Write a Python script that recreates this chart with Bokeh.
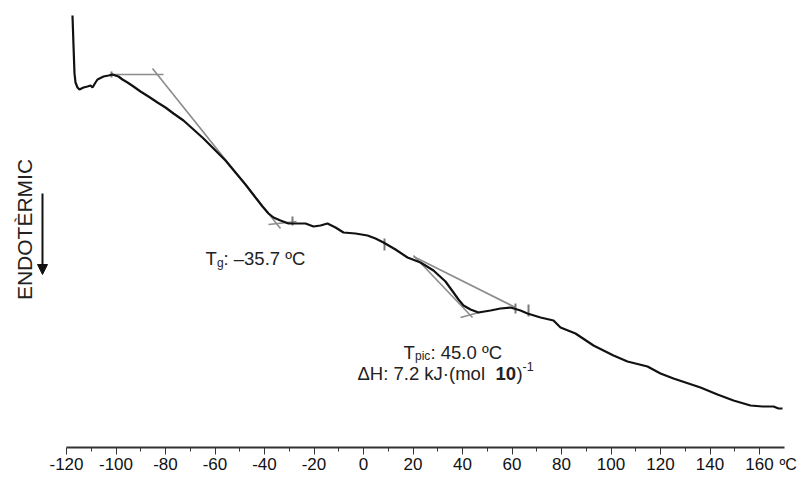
from bokeh.plotting import figure
from bokeh.models import FixedTicker, Label, Arrow, NormalHead
from bokeh.embed import file_html
from bokeh.resources import INLINE
import math

# ---- DSC curve (temperature in ºC, heat flow in arbitrary units, endo down) ----
temp = [-117.58, -117.17, -116.77, -116.36, -115.56, -114.75, -113.13, -111.52, -110.30, -109.49,
        -108.28, -107.47, -105.05, -103.03, -101.41, -99.01, -97.37, -95.35, -92.93, -90.10,
        -86.87, -83.23, -80.00, -76.77, -72.73, -68.69, -64.65, -60.61, -55.76, -51.72,
        -47.68, -43.64, -40.81, -38.38, -36.36, -33.54, -30.30, -26.26, -23.43, -20.20,
        -17.37, -14.55, -11.31, -8.08, -3.23, 1.62, 4.85, 8.08, 12.93, 17.78,
        23.03, 28.28, 33.13, 36.36, 38.38, 40.40, 43.23, 46.46, 51.31, 55.35, 59.39,
        63.43, 66.26, 71.52, 76.77, 79.60, 85.66, 92.93, 101.01, 106.67, 114.75,
        120.00, 125.25, 136.16, 143.03, 149.49, 156.36, 161.21, 165.66, 167.68, 169.29]
heat = [8.64, 8.04, 7.48, 7.30, 7.20, 7.16, 7.20, 7.22, 7.24, 7.20,
        7.30, 7.36, 7.42, 7.44, 7.46, 7.42, 7.36, 7.30, 7.22, 7.12,
        7.02, 6.90, 6.80, 6.68, 6.54, 6.36, 6.18, 5.98, 5.74, 5.50,
        5.26, 5.00, 4.82, 4.68, 4.60, 4.54, 4.48, 4.48, 4.48, 4.42,
        4.44, 4.48, 4.40, 4.30, 4.28, 4.24, 4.18, 4.10, 3.96, 3.80,
        3.70, 3.54, 3.32, 3.10, 2.96, 2.84, 2.76, 2.70, 2.74, 2.78, 2.80,
        2.74, 2.68, 2.60, 2.54, 2.40, 2.28, 2.04, 1.84, 1.72, 1.62,
        1.48, 1.38, 1.20, 1.06, 0.94, 0.84, 0.82, 0.82, 0.78, 0.78]

# ---- construction (tangent) lines: start/end temperatures and heat flows ----
tan_x0 = [-102.22, -85.25, -38.38, 20.20, 20.20, 39.19]
tan_x1 = [-80.81, -33.54, -27.07, 61.41, 44.04, 48.08]
tan_y0 = [7.46, 7.58, 4.46, 3.82, 3.84, 2.60]
tan_y1 = [7.46, 4.38, 4.52, 2.80, 2.60, 2.72]

# ---- small marker ticks on the curve ----
mark_x = [-101.82, -28.69, 8.48, 61.41, 66.67]
mark_y0 = [7.52, 4.62, 4.18, 2.88, 2.86]
mark_y1 = [7.40, 4.44, 3.94, 2.68, 2.62]

# ---- axis ----
major_ticks = [-120, -100, -80, -60, -40, -20, 0, 20, 40, 60, 80, 100, 120, 140, 160]
minor_ticks = [-110, -90, -70, -50, -30, -10, 10, 30, 50, 70, 90, 110, 130, 150]
tick_labels = ["-120", "-100", "-80", "-60", "-40", "-20", "0", "20", "40", "60",
               "80", "100", "120", "140", "160"]
axis_bounds = (-120, 170)
axis_level = 0.0

# pixel helpers for annotation placement only
def dx(px):
    return (px - 66) / 2.475 - 120

def dy(py):
    return (447 - py) / 50.0

p = figure(width=805, height=477, x_range=(dx(0), dx(805)), y_range=(dy(477), dy(0)),
           min_border_left=0, min_border_right=0, min_border_top=0, min_border_bottom=0,
           y_axis_location=None, toolbar_location=None, output_backend="svg",
           outline_line_color=None, background_fill_color="white", border_fill_color="white")
p.grid.visible = False

ax = p.xaxis[0]
ax.fixed_location = axis_level
ax.ticker = FixedTicker(ticks=major_ticks, minor_ticks=minor_ticks)
ax.major_label_overrides = {t: s for t, s in zip(major_ticks, tick_labels)}
ax.bounds = axis_bounds
ax.axis_line_width = 2
ax.axis_line_color = "#333333"
ax.major_tick_line_color = "#333333"
ax.minor_tick_line_color = "#333333"
ax.major_tick_in = 0
ax.major_tick_out = 7
ax.minor_tick_in = 0
ax.minor_tick_out = 4
ax.major_label_standoff = 3
ax.major_label_text_font = "Liberation Sans"
ax.major_label_text_font_size = "17px"
ax.major_label_text_color = "#111111"

# tangents
p.segment(x0=tan_x0, y0=tan_y0, x1=tan_x1, y1=tan_y1, line_color="#8c8c8c", line_width=1.6)
p.segment(x0=mark_x, y0=mark_y0, x1=mark_x, y1=mark_y1, line_color="#7a7a7a", line_width=2)

# curve
p.line(temp, heat, line_color="#111111", line_width=2.2)

F = "Liberation Sans"
C = "#222222"
def lab(px, py, text, size, style="normal"):
    p.add_layout(Label(x=dx(px), y=dy(py), text=text, text_font=F, text_font_size=size,
                       text_color=C, text_baseline="alphabetic", text_font_style=style))

# Tg annotation
lab(205, 258, "T", "18.5px")
lab(216.5, 262, "g", "12px")
lab(223, 258, ": \u201335.7 \u00baC", "18.5px")

# Tpic annotation
lab(403, 352, "T", "18.5px")
lab(414.5, 355, "pic", "12px")
lab(430, 352, ": 45.0 \u00baC", "18.5px")

# Delta H annotation
lab(357, 373, "\u0394H: 7.2 kJ\u00b7(mol ", "18.5px")
lab(495, 373, "10", "18.5px", "bold")
lab(516, 373, ")", "18.5px")
lab(522, 366, "-1", "12.5px")

# ENDOTERMIC vertical label and arrow
p.add_layout(Label(x=dx(24), y=dy(229), text="ENDOT\u00c8RMIC", angle=math.pi / 2,
                   text_font=F, text_font_size="21px", text_color=C,
                   text_align="center", text_baseline="middle"))
p.add_layout(Arrow(x_start=dx(42), y_start=dy(193), x_end=dx(42), y_end=dy(274),
                   line_width=2, line_color="#111111",
                   end=NormalHead(size=10, fill_color="#111111", line_color="#111111")))

# unit label at end of axis
p.add_layout(Label(x=dx(779), y=dy(464), text="\u00baC", text_font=F, text_font_size="16px",
                   text_color="#111111", text_baseline="middle"))

open("out.html", "w").write(file_html(p, INLINE))
